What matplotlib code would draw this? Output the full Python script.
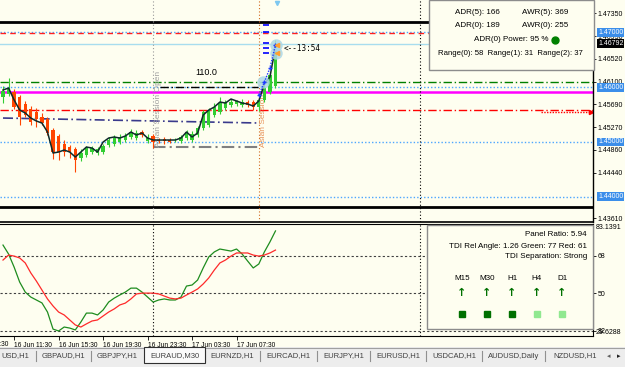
import matplotlib.pyplot as plt
import matplotlib.transforms as mtransforms
from matplotlib.patches import Rectangle
from matplotlib.lines import Line2D

W, H = 625, 367
BG = '#FEFEF0'
plt.rcParams['font.family'] = ['Liberation Sans', 'DejaVu Sans']

# EURAUD M30 candles, bar 0 = 16 Jun 10:30
opens = [1.45821, 1.45875, 1.45912, 1.45821, 1.45693, 1.45602, 1.45547, 1.45456, 1.45419, 1.45218,
         1.45109, 1.44963, 1.44908, 1.44872, 1.44707, 1.44762, 1.44817, 1.44799, 1.44817, 1.44945,
         1.44963, 1.44999, 1.45036, 1.45091, 1.45072, 1.45182, 1.45018, 1.45109, 1.45036, 1.45054,
         1.45036, 1.45036, 1.45018, 1.45072, 1.45036, 1.45127, 1.45255, 1.45310, 1.45492, 1.45547,
         1.45620, 1.45675, 1.45693, 1.45675, 1.45729, 1.45729, 1.45638, 1.45766, 1.45912, 1.46021]
highs = [1.46021, 1.46167, 1.45967, 1.45857, 1.45748, 1.45656, 1.45620, 1.45529, 1.45456, 1.45255,
         1.45145, 1.45036, 1.44945, 1.44908, 1.44872, 1.44926, 1.44926, 1.44908, 1.44963, 1.45091,
         1.45127, 1.45145, 1.45164, 1.45237, 1.45218, 1.45218, 1.45145, 1.45145, 1.45072, 1.45091,
         1.45072, 1.45072, 1.45127, 1.45218, 1.45200, 1.45291, 1.45583, 1.45620, 1.45711, 1.45821,
         1.45766, 1.45784, 1.45766, 1.45784, 1.45766, 1.45766, 1.45802, 1.46058, 1.46277, 1.46861]
lows = [1.45711, 1.45839, 1.45602, 1.45310, 1.45456, 1.45310, 1.45273, 1.45310, 1.45127, 1.44689,
        1.44671, 1.44744, 1.44707, 1.44452, 1.44653, 1.44726, 1.44780, 1.44762, 1.44780, 1.44908,
        1.44926, 1.44963, 1.44999, 1.45054, 1.45036, 1.45091, 1.44981, 1.44890, 1.44981, 1.44963,
        1.44981, 1.44999, 1.44981, 1.45036, 1.44999, 1.45091, 1.45218, 1.45273, 1.45456, 1.45510,
        1.45583, 1.45638, 1.45656, 1.45638, 1.45638, 1.45583, 1.45565, 1.45729, 1.45875, 1.45985]
closes = [1.45930, 1.45967, 1.45638, 1.45456, 1.45492, 1.45364, 1.45419, 1.45346, 1.45164, 1.44817,
          1.44817, 1.44817, 1.44817, 1.44671, 1.44799, 1.44890, 1.44890, 1.44872, 1.44926, 1.45036,
          1.45072, 1.45091, 1.45109, 1.45182, 1.45164, 1.45127, 1.45091, 1.44999, 1.45018, 1.45018,
          1.44999, 1.45040, 1.45091, 1.45182, 1.45145, 1.45255, 1.45547, 1.45583, 1.45638, 1.45711,
          1.45711, 1.45729, 1.45748, 1.45729, 1.45675, 1.45638, 1.45766, 1.45985, 1.46222, 1.46792]
ma_line = [1.45948, 1.45985, 1.45766, 1.45583, 1.45529, 1.45437, 1.45383, 1.45346, 1.45182, 1.44799,
           1.44817, 1.44853, 1.44817, 1.44726, 1.44817, 1.44908, 1.44890, 1.44817, 1.44999, 1.45072,
           1.45091, 1.45072, 1.45109, 1.45182, 1.45127, 1.45164, 1.45072, 1.45036, 1.45036, 1.45036,
           1.45036, 1.45036, 1.45072, 1.45182, 1.45091, 1.45164, 1.45492, 1.45583, 1.45638, 1.45729,
           1.45711, 1.45784, 1.45748, 1.45711, 1.45693, 1.45656, 1.45748, 1.46058, 1.46186, 1.46733]

# TDI sub window
tdi_green = [73.2, 68.9, 62.6, 55.4, 50.6, 48.2, 46.8, 45.4, 41.0, 32.8,
             31.9, 33.8, 33.3, 32.4, 36.2, 40.5, 40.5, 39.6, 42.0, 45.8,
             47.7, 49.2, 50.6, 52.5, 52.5, 50.6, 48.2, 45.8, 46.8, 47.3,
             46.8, 46.8, 48.2, 53.5, 54.0, 56.4, 62.2, 67.5, 69.9, 71.3,
             70.8, 70.3, 71.3, 68.9, 65.5, 62.2, 64.1, 69.9, 74.7, 80.0]
tdi_red = [66.0, 68.4, 67.9, 67.0, 64.6, 59.8, 55.9, 51.6, 47.3, 43.9,
           41.0, 39.6, 37.2, 34.8, 33.8, 35.3, 36.7, 37.2, 39.1, 41.0,
           42.5, 44.4, 45.3, 47.3, 49.7, 50.1, 50.1, 50.1, 49.7, 48.7,
           47.7, 47.3, 47.7, 49.2, 50.6, 52.1, 54.5, 57.4, 61.2, 64.6,
           66.0, 67.9, 69.4, 69.4, 69.4, 68.4, 67.9, 68.4, 69.4, 70.8]
tdi_levels = [68, 50, 32]
tdi_min, tdi_max = 29.6288, 83.1391

# levels on the price window
week_lines = [1.47195, 1.43813]
round_levels = [1.47000, 1.46000, 1.45000, 1.44000]
red_dash_top = 1.46983
bid = 1.46792
green_level = 1.46100
magenta_level = 1.45907
red_level = 1.45583
red_target = 1.45547
navy_bars = [0, 46.2]
navy_vals = [1.45437, 1.45346]
asian_open, asian_close = 27, 46
asian_high, asian_low = 1.45998, 1.44908
day_sep = [27, 75]
blue_marks = [1.47135, 1.47002, 1.46801, 1.46710, 1.46618]
zz_bars = [46, 47, 48, 49]
zz_vals = [1.45857, 1.46094, 1.46350, 1.46770]
circle_bars = [46.8, 49.1, 49.1]
circle_vals = [1.46094, 1.46770, 1.46624]

price_ticks = [1.47350, 1.46930, 1.46520, 1.46100, 1.45690, 1.45270, 1.44860, 1.44440, 1.43610]
time_bars = [2, 10, 18, 26, 34, 42]
time_labels = ['16 Jun 11:30', '16 Jun 15:30', '16 Jun 19:30', '16 Jun 23:30',
               '17 Jun 03:30', '17 Jun 07:30']

info_rows = [('ADR(5): 166', 'AWR(5): 369'), ('ADR(0): 189', 'AWR(0): 255')]
tdi_info = ['Panel Ratio: 5.94', 'TDI Rel Angle: 1.26 Green: 77 Red: 61', 'TDI Separation: Strong']
timeframes = ['M15', 'M30', 'H1', 'H4', 'D1']
tf_strength = ['#007000', '#007000', '#007000', '#90E890', '#90E890']
tabs = ['GBPAUD,H1', 'GBPJPY,H1', 'EURAUD,M30', 'EURNZD,H1', 'EURCAD,H1', 'EURJPY,H1',
        'EURUSD,H1', 'USDCAD,H1', 'AUDUSD,Daily', 'NZDUSD,H1']
tab_edges = [36, 91, 144, 205, 260, 317, 370, 426, 482, 545, 605]
active_tab = 'EURAUD,M30'

bars = list(range(len(closes)))


def fx(px):
    return px / W


def fy(py):
    return 1 - py / H


fig = plt.figure(figsize=(W / 100, H / 100), dpi=100, facecolor=BG)
ax1 = fig.add_axes([0, fy(222), fx(593), 222 / H], facecolor=BG)
ax2 = fig.add_axes([0, fy(335.7), fx(593), 111.3 / H], facecolor=BG)
xlim = (-0.54, 106.1)

# ---------------- price window ----------------
dotted = (0, (1, 1.5))
dashdot = (0, (6, 2, 1, 2))
for lvl in week_lines:
    ax1.axhline(lvl, color='black', lw=2, zorder=1)
for lvl in round_levels:
    ax1.axhline(lvl, color='#4DA6FF', lw=1, ls=dotted, zorder=1)
ax1.axhline(red_dash_top, color='#FF2020', lw=1, ls=(0, (4, 3)), zorder=1)
ax1.axhline(bid, color='#A8DDEE', lw=1, zorder=1)
ax1.axhline(green_level, color='#008000', lw=1, ls=dashdot, zorder=1)
ax1.axhline(magenta_level, color='#FF00FF', lw=1.8, zorder=1)
ax1.axhline(red_level, color='#FF0000', lw=1, ls=dashdot, zorder=1)
ax1.plot([96.8, 105.6], [red_target] * 2, color='#FF0000', lw=1, ls=(0, (1, 1)), zorder=1)
ax1.plot([105.7], [red_target], marker='>', color='#FF0000', ms=3, zorder=1)
ax1.plot(navy_bars, navy_vals, color='#3A3A8C', lw=1.2, ls=dashdot, zorder=1)
ax1.plot([asian_open + 1.2, asian_close - 0.1], [asian_high] * 2, color='black', lw=1,
         ls=dashdot, zorder=1)
ax1.plot([asian_open, asian_close], [asian_low] * 2, color='#808080', lw=1.5, ls=dashdot, zorder=1)

ax1.axvline(day_sep[1], color='black', lw=0.8, ls=(0, (1, 2)), zorder=1)
ax1.axvline(asian_open, color='#9A9A9A', lw=0.8, ls=(0, (1, 2)), zorder=1)
ax1.axvline(asian_close, color='#D2691E', lw=0.8, ls=(0, (1, 2)), zorder=1)
ax1.text(asian_open + 0.25, asian_low, 'Asian Session Open', rotation=90, color='#A0A0A0',
         fontsize=6, ha='left', va='bottom', zorder=2)
ax1.text(asian_close + 0.25, asian_low, 'Asian Session', rotation=90, color='#E8935A',
         fontsize=6, ha='left', va='bottom', zorder=2)
ax1.text((asian_open + asian_close) / 2, 1.46277, '110.0', fontsize=6.5, ha='center',
         va='center', zorder=2)

for i in bars:
    up = closes[i] >= opens[i]
    col = '#32CD32' if up else '#FF4500'
    ax1.vlines(i, lows[i], highs[i], color=col, lw=0.8, zorder=3)
    body = max(abs(closes[i] - opens[i]), 0.00003)
    ax1.bar(i, body, bottom=min(opens[i], closes[i]), width=0.6, color=col, zorder=3)

ax1.plot(bars, ma_line, color='#0E2A2A', lw=1.1, zorder=4)

ax1.scatter(circle_bars, circle_vals, s=80, color='#ADD8E6', alpha=0.85, lw=0, zorder=5)
ax1.plot(zz_bars, zz_vals, color='#1E3CFF', lw=1, ls=(0, (1, 1)), marker='+', ms=2.5, zorder=6)
ax1.plot([49.35, 49.35], [circle_vals[1], circle_vals[2]], ls='none', marker='<',
         color='#FFA030', ms=3, zorder=6)
ax1.plot([47.3] * len(blue_marks), blue_marks, ls='none', marker='_', color='#0000FF',
         ms=4, mew=1.2, zorder=6)
ax1.plot([49.3], [1.47536], marker='v', color='#7EC8F0', ms=3, zorder=6)
ax1.text(50.4, 1.46715, '<--13:54', fontsize=5.5, family='DejaVu Sans Mono', ha='left',
         va='center', zorder=6)

ax1.set_xlim(*xlim)
ax1.set_ylim(1.43540, 1.47591)
ax1.set_xticks([])
ax1.yaxis.tick_right()
ax1.set_yticks(price_ticks)
ax1.set_yticklabels([f'{t:.5f}' for t in price_ticks])
ax1.tick_params(axis='y', direction='out', length=2, pad=1.5, labelsize=5, width=0.6)
for s in ['left', 'top']:
    ax1.spines[s].set_visible(False)
ax1.spines['right'].set_linewidth(1)
ax1.spines['bottom'].set_linewidth(1.2)

trans1 = mtransforms.blended_transform_factory(ax1.transAxes, ax1.transData)
for lvl in round_levels:
    ax1.text(1.0 + 5 / 593, lvl, f'{lvl:.5f}', transform=trans1, fontsize=5, color='white',
             ha='left', va='center', zorder=10,
             bbox=dict(boxstyle='square,pad=0.12', fc='#3B8EEA', ec='none'))
ax1.text(1.0 + 5 / 593, bid, f'{bid:.5f}', transform=trans1, fontsize=5, color='white',
         ha='left', va='center', zorder=10,
         bbox=dict(boxstyle='square,pad=0.12', fc='black', ec='none'))

# info box
fig.add_artist(Rectangle((fx(429), fy(70)), fx(594) - fx(429), 70 / H, transform=fig.transFigure,
                         fc=BG, ec='#8C8C8C', lw=1, zorder=5))
for r, (left, right) in enumerate(info_rows):
    fig.text(fx(477), fy(12 + 13.5 * r), left, fontsize=5.8, ha='center', va='center', zorder=6)
    fig.text(fx(545), fy(12 + 13.5 * r), right, fontsize=5.8, ha='center', va='center', zorder=6)
fig.text(fx(511), fy(39.5), 'ADR(0) Power: 95 %', fontsize=5.8, ha='center', va='center', zorder=6)
fig.add_artist(Line2D([fx(555)], [fy(39.5)], marker='o', color='#008000', ms=5,
                      transform=fig.transFigure, zorder=6))
fig.text(fx(510), fy(53.5), 'Range(0): 58  Range(1): 31  Range(2): 37', fontsize=5.6,
         ha='center', va='center', zorder=6)

# ---------------- TDI window ----------------
for lvl in tdi_levels:
    ax2.axhline(lvl, color='#404040', lw=0.8, ls=(0, (2, 2)), zorder=1)
for b in day_sep:
    ax2.axvline(b, color='black', lw=0.8, ls=(0, (1, 2)), zorder=1)
ax2.plot(bars, tdi_green, color='#1E8C1E', lw=0.9, zorder=3)
ax2.plot(bars, tdi_red, color='#FF2A2A', lw=0.9, zorder=3)
ax2.set_xlim(*xlim)
ax2.set_ylim(tdi_min, tdi_max)
ax2.yaxis.tick_right()
ax2.set_yticks(tdi_levels)
ax2.set_yticklabels(['68', '50', '32'])
ax2.tick_params(axis='y', direction='out', length=2, pad=1.5, labelsize=5, width=0.6)
ax2.set_xticks(time_bars)
ax2.set_xticklabels(time_labels, ha='left')
ax2.tick_params(axis='x', direction='out', length=3, pad=1.5, labelsize=4.8, width=0.6)
ax2.spines['left'].set_visible(False)
trans2 = mtransforms.blended_transform_factory(ax2.transAxes, ax2.transData)
ax2.text(1.0 + 3 / 593, tdi_max, f'{tdi_max:.4f}', transform=trans2, fontsize=5, ha='left', va='top')
ax2.text(1.0 + 3 / 593, tdi_min, f'{tdi_min:.4f}', transform=trans2, fontsize=5, ha='left', va='bottom')
ax2.text(time_bars[0] - 8, -0.045, '16 Jun 07:30', transform=mtransforms.blended_transform_factory(
    ax2.transData, ax2.transAxes), fontsize=4.8, ha='left', va='top')

fig.add_artist(Rectangle((fx(427), fy(329)), fx(593) - fx(427), (329 - 225) / H,
                         transform=fig.transFigure, fc=BG, ec='#8C8C8C', lw=1, zorder=5))
for r, line in enumerate(tdi_info):
    fig.text(fx(587), fy(235 + 11 * r), line, fontsize=5.8, ha='right', va='center', zorder=6)
for k, (tf, col) in enumerate(zip(timeframes, tf_strength)):
    cx = fx(462 + 25 * k)
    fig.text(cx, fy(278), tf, fontsize=5.8, ha='center', va='center', zorder=6)
    fig.text(cx, fy(293), '\u2191', fontsize=8, fontweight='bold', color='#007000',
             family='DejaVu Sans', ha='center', va='center', zorder=6)
    fig.add_artist(Line2D([cx], [fy(314)], marker='s', color=col, ms=4,
                          transform=fig.transFigure, zorder=6))

# ---------------- tab strip ----------------
fig.add_artist(Rectangle((0, 0), 1, fy(347), transform=fig.transFigure, fc='#EDEDED',
                         ec='none', zorder=1))
fig.add_artist(Line2D([0, 1], [fy(347.5)] * 2, color='#A0A0A0', lw=0.8,
                      transform=fig.transFigure, zorder=2))
fig.text(fx(1), fy(356), 'USD,H1', fontsize=5.5, color='#404040', ha='left', va='center', zorder=4)
for k, name in enumerate(tabs):
    x0, x1 = tab_edges[k], tab_edges[k + 1]
    if name == active_tab:
        fig.add_artist(Rectangle((fx(x0), fy(363)), fx(x1) - fx(x0), 16 / H,
                                 transform=fig.transFigure, fc='#FAFAFA', ec='#303030',
                                 lw=0.8, zorder=3))
    else:
        fig.add_artist(Line2D([fx(x0)] * 2, [fy(351), fy(361)], color='#909090', lw=0.8,
                              transform=fig.transFigure, zorder=2))
    fig.text(fx((x0 + x1) / 2), fy(356), name, fontsize=5.5, color='#404040', ha='center',
             va='center', zorder=4)
fig.text(fx(609), fy(356), '\u25c2', fontsize=5, color='#606060', family='DejaVu Sans',
         ha='center', va='center', zorder=4)
fig.text(fx(619), fy(356), '\u25b8', fontsize=5, color='#202020', family='DejaVu Sans',
         ha='center', va='center', zorder=4)

fig.savefig('out.png', dpi=100, facecolor=BG)
